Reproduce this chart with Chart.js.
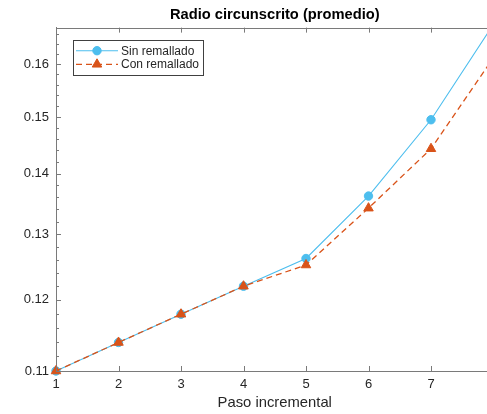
<!DOCTYPE html>
<html>
<head>
<meta charset="utf-8" />
<script src="https://cdn.jsdelivr.net/npm/chart.js@4.4.0/dist/chart.umd.min.js"></script>
<title>Radio circunscrito (promedio)</title>
<style>
  html, body { margin: 0; padding: 0; overflow: hidden; background: #fff; }
  #wrap { width: 500px; height: 414px; }
</style>
</head>
<body>
<div id="wrap"><canvas id="chart" width="500" height="414"></canvas></div>
<script>
// values (log y axis)
const pasos = [1, 2, 3, 4, 5, 6, 7, 8];
const sinRemallado = [0.1100, 0.1139, 0.1179, 0.1220, 0.1262, 0.1362, 0.1495, 0.1680];
const conRemallado = [0.1100, 0.1139, 0.1179, 0.1220, 0.1252, 0.1342, 0.1443, 0.1613];
const xTicks = [1, 2, 3, 4, 5, 6, 7];
const yTicks = [0.11, 0.12, 0.13, 0.14, 0.15, 0.16];

const FONT = "'Liberation Sans', Arial, Helvetica, sans-serif";
const AXIS = '#7a7a7a';
const TXT = '#262626';

function toPoints(ys) {
  return pasos.map((x, i) => ({ x: x, y: ys[i] }));
}

// inward tick marks + top box line, then the legend box
const axesAndLegend = {
  id: 'axesAndLegend',
  afterDatasetsDraw(chart) {
    const ctx = chart.ctx;
    const a = chart.chartArea;
    const xs = chart.scales.x, ys = chart.scales.y;
    ctx.save();
    ctx.strokeStyle = AXIS;
    ctx.lineWidth = 1;
    ctx.beginPath();
    ctx.moveTo(a.left, Math.round(a.top) + 0.5);
    ctx.lineTo(a.right, Math.round(a.top) + 0.5);
    xTicks.forEach(v => {
      const px = Math.round(xs.getPixelForValue(v)) + 0.5;
      ctx.moveTo(px, a.bottom); ctx.lineTo(px, a.bottom - 5);
      ctx.moveTo(px, a.top); ctx.lineTo(px, a.top + 5);
    });
    for (let k = 110; k <= 166; k += 2) {
      const v = k / 1000;
      const py = Math.round(ys.getPixelForValue(v)) + 0.5;
      const len = (k % 10 === 0) ? 5 : 3;
      ctx.moveTo(a.left, py); ctx.lineTo(a.left + len, py);
    }
    ctx.stroke();

    // legend
    const bx = 73.5, by = 40.5, bw = 130, bh = 35;
    ctx.fillStyle = '#fff';
    ctx.fillRect(bx, by, bw, bh);
    ctx.strokeStyle = '#404040';
    ctx.strokeRect(bx, by, bw, bh);
    const rows = [50.7, 64.3];
    chart.data.datasets.forEach((ds, i) => {
      const y = rows[i];
      ctx.save();
      ctx.strokeStyle = ds.borderColor;
      ctx.lineWidth = ds.borderWidth;
      ctx.setLineDash(ds.borderDash || []);
      ctx.beginPath();
      ctx.moveTo(76, y); ctx.lineTo(118, y);
      ctx.stroke();
      ctx.setLineDash([]);
      ctx.lineWidth = 1;
      ctx.fillStyle = ds.pointBackgroundColor;
      ctx.strokeStyle = ds.pointBorderColor;
      Chart.helpers.drawPoint(ctx, {
        pointStyle: ds.pointStyle, radius: ds.pointRadius, borderWidth: 1
      }, 97, y);
      ctx.restore();
      ctx.fillStyle = TXT;
      ctx.font = '12px ' + FONT;
      ctx.textBaseline = 'middle';
      ctx.textAlign = 'left';
      ctx.fillText(ds.label, 121, y + 0.5);
    });
    ctx.restore();
  }
};

new Chart(document.getElementById('chart'), {
  type: 'line',
  data: {
    datasets: [
      {
        label: 'Sin remallado',
        data: toPoints(sinRemallado),
        borderColor: '#4DBEEE',
        backgroundColor: '#4DBEEE',
        pointBackgroundColor: '#4DBEEE',
        pointBorderColor: '#4DBEEE',
        borderWidth: 1.1,
        pointStyle: 'circle',
        pointRadius: 4.2,
        pointBorderWidth: 1,
        tension: 0,
        clip: { left: 10, bottom: 10, top: 0, right: 0 },
        order: 2
      },
      {
        label: 'Con remallado',
        data: toPoints(conRemallado),
        borderColor: '#D95319',
        backgroundColor: '#D95319',
        pointBackgroundColor: '#D95319',
        pointBorderColor: '#D95319',
        borderWidth: 1.3,
        borderDash: [6, 4],
        pointStyle: 'triangle',
        pointRadius: 5.5,
        pointBorderWidth: 1,
        tension: 0,
        clip: { left: 10, bottom: 10, top: 0, right: 0 },
        order: 1
      }
    ]
  },
  options: {
    responsive: false,
    animation: false,
    devicePixelRatio: 1,
    layout: { padding: { left: 0, right: 6, top: 0, bottom: 0 } },
    plugins: {
      legend: { display: false },
      tooltip: { enabled: false },
      title: {
        display: true,
        text: 'Radio circunscrito (promedio)',
        fullSize: false,
        color: '#000',
        font: { family: FONT, size: 14.7, weight: 'bold' },
        padding: { top: 6, bottom: 4 }
      }
    },
    scales: {
      x: {
        type: 'linear',
        min: 1,
        max: 8,
        afterBuildTicks: s => { s.ticks = xTicks.map(v => ({ value: v })); },
        afterFit: s => { s.height = 43; },
        grid: { display: true, drawOnChartArea: false, drawTicks: false },
        border: { display: true, color: AXIS, width: 1 },
        ticks: {
          color: TXT,
          font: { family: FONT, size: 13 },
          padding: 6,
          maxRotation: 0,
          autoSkip: false
        },
        title: {
          display: true,
          text: 'Paso incremental',
          color: TXT,
          font: { family: FONT, size: 14.8 },
          padding: { top: 0, bottom: 2 }
        }
      },
      y: {
        type: 'logarithmic',
        min: 0.11,
        max: 0.1673,
        afterBuildTicks: s => { s.ticks = yTicks.map(v => ({ value: v })); },
        afterFit: s => { s.width = 56; },
        grid: { display: true, drawOnChartArea: false, drawTicks: false },
        border: { display: true, color: AXIS, width: 1 },
        ticks: {
          color: TXT,
          font: { family: FONT, size: 13 },
          padding: 7,
          autoSkip: false,
          callback: v => v.toFixed(2)
        }
      }
    }
  },
  plugins: [axesAndLegend]
});
</script>
</body>
</html>
